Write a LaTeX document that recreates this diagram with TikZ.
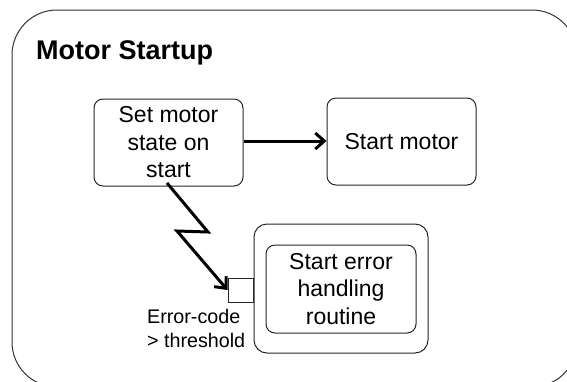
\documentclass[tikz,border=0pt]{standalone}
\usepackage{fontspec}
\setmainfont{Liberation Sans}
\usetikzlibrary{arrows.meta}
\begin{document}
\begin{tikzpicture}[x=1pt,y=-1pt,
  box/.style={draw=black!85,line width=1pt,rounded corners=9pt,align=center,
    inner sep=0pt,font=\fontsize{23}{27.5}\selectfont},
  flow/.style={line width=3pt,-{Straight Barb[length=9pt,width=16pt,line width=3pt]}},
  lbl/.style={align=left,inner sep=0pt,font=\fontsize{19.7}{24}\selectfont}]
\useasboundingbox (0,0) rectangle (567,381);
% outer frame, running past the page on the right and at the bottom
\begin{scope}
\clip (0,0) rectangle (567,381);
\draw[black!80,line width=1pt,rounded corners=45pt] (12,10) rectangle (577,387);
\end{scope}
\node[anchor=base west,inner sep=0pt,font=\fontsize{27}{30}\selectfont\bfseries] (title) at (36,59) {Motor Startup};
% activities
\node[box,minimum width=149pt,minimum height=87pt] (set) at (168.5,142.5) {Set motor\\state on\\start};
\node[box,minimum width=149pt,minimum height=87pt] (start) at (401.5,141.5) {Start motor};
\node[box,rounded corners=13pt,minimum width=174pt,minimum height=129pt] (handler) at (341,288.5) {};
\node[box,minimum width=150pt,minimum height=88pt] (routine) at (341,289) {Start error\\handling\\routine};
\node[draw=black!85,line width=1pt,inner sep=0pt,minimum width=25pt,minimum height=24pt] (pin) at (240.5,290) {};
% guard condition; the base anchor sits on the last line
\node[lbl,anchor=base west] (cond) at (147,347) {Error-code\\> threshold};
% connectors
\draw[flow] (set.east |- 0,141) -- (start.west |- 0,141);
\coordinate (z1) at (208,232);
\coordinate (z2) at (177,231);
\draw[flow,line join=miter] (167,183) -- (z1) -- (z2) -- (pin.west);
\end{tikzpicture}
\end{document}
